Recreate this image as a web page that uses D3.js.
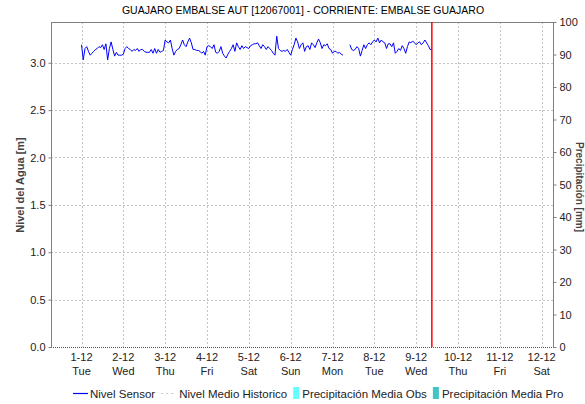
<!DOCTYPE html>
<html>
<head>
<meta charset="utf-8">
<script src="https://cdn.jsdelivr.net/npm/d3@7"></script>
<style>
  body { margin: 0; background: #fff; }
  svg { display: block; font-family: "Liberation Sans", Arial, sans-serif; }
</style>
</head>
<body>
<svg id="chart" width="585" height="404"></svg>
<script>
// Station title and axis labels
const title = "GUAJARO EMBALSE AUT [12067001] - CORRIENTE: EMBALSE GUAJARO";
const leftLabel = "Nivel del Agua [m]";
const rightLabel = "Precipitación [mm]";

// Hourly water level readings from 1-12 00:00 (null = missing reading)
const startHour = new Date(2020, 11, 1, 0, 0);
const levels = [
  // 1-12
  3.19, 3.03, 3.15, 3.17, 3.12, 3.08, 3.10, 3.12, 3.14, 3.15, 3.17, 3.16,
  3.19, 3.14, 3.20, 3.03, 3.15, 3.22, 3.14, 3.07, 3.11, 3.08, 3.08, 3.08,
  // 2-12
  3.09, 3.15, 3.17, 3.15, 3.14, 3.12, 3.14, 3.13, 3.15, 3.12, 3.14, 3.14,
  3.12, 3.11, 3.11, 3.11, 3.14, 3.10, 3.15, 3.10, 3.14, 3.11, 3.12, 3.13,
  // 3-12
  3.24, 3.22, 3.21, 3.24, 3.15, 3.08, 3.12, 3.14, 3.15, 3.19, 3.24, 3.19,
  3.17, 3.22, 3.26, 3.21, 3.14, 3.14, 3.13, 3.13, 3.12, 3.10, 3.12, 3.08,
  // 4-12
  3.17, 3.18, 3.17, 3.15, 3.19, 3.11, 3.10, 3.12, 3.17, 3.10, 3.07, 3.05,
  3.09, 3.12, 3.15, 3.19, 3.12, 3.21, 3.17, 3.14, 3.18, 3.15, 3.17, 3.16,
  // 5-12
  3.15, 3.18, 3.19, 3.20, 3.20, 3.21, 3.18, 3.15, 3.19, 3.17, 3.14, 3.17,
  3.15, 3.13, 3.10, 3.08, 3.28, 3.15, 3.13, 3.12, 3.13, 3.12, 3.14, 3.11,
  // 6-12
  3.08, 3.14, 3.19, 3.26, 3.22, 3.15, 3.19, 3.21, 3.12, 3.17, 3.18, 3.14,
  3.21, 3.19, 3.16, 3.21, 3.25, 3.21, 3.15, 3.19, 3.18, 3.20, 3.15, 3.14,
  // 7-12
  3.10, 3.12, 3.12, 3.10, 3.11, 3.09, 3.08, null, null, null, 3.19, 3.14,
  3.13, 3.14, 3.17, 3.15, 3.07, 3.13, 3.19, 3.15, 3.19, 3.21, 3.19, 3.22,
  // 8-12
  3.24, 3.22, 3.26, 3.21, 3.24, 3.22, 3.21, 3.15, 3.20, 3.20, 3.17, 3.21,
  3.10, 3.12, 3.15, 3.13, 3.18, 3.15, 3.10, 3.17, 3.22, 3.21, 3.23, 3.21,
  // 9-12
  3.19, 3.21, 3.22, 3.19, 3.21, 3.24, 3.21, 3.18, 3.14, 3.14
];

// Time of the latest reading (red marker)
const nowTime = new Date(2020, 11, 9, 9, 0);

// Axis ticks
const dayTicks = d3.range(1, 13).map(d => new Date(2020, 11, d));
const dayNames = ["Sun", "Mon", "Tue", "Wed", "Thu", "Fri", "Sat"];
const levelTicks = [0.0, 0.5, 1.0, 1.5, 2.0, 2.5, 3.0];
const rainTicks = [0, 10, 20, 30, 40, 50, 60, 70, 80, 90, 100];

// Legend entries
const legendItems = [
  { label: "Nivel Sensor", kind: "line", color: "#0000ff" },
  { label: "Nivel Medio Historico", kind: "dash", color: "#c8c8c8" },
  { label: "Precipitación Media Obs", kind: "box", color: "#66ffff" },
  { label: "Precipitación Media Pro", kind: "box", color: "#40c4c4" }
];

const svg = d3.select("#chart");
const m = { left: 51, right: 553, top: 22, bottom: 347 };

const x = d3.scaleTime()
  .domain([new Date(2020, 10, 30, 6, 30), new Date(2020, 11, 12, 6, 30)])
  .range([m.left, m.right]);
const y = d3.scaleLinear().domain([0, 3.43]).range([m.bottom, m.top]);
const y2 = d3.scaleLinear().domain([0, 100]).range([m.bottom, m.top]);

const axisColor = "#808080";
const gridColor = "#c4c4c4";

// Grid lines
const grid = svg.append("g");
grid.selectAll("line.v").data(dayTicks).join("line")
  .attr("x1", d => Math.round(x(d)) + 0.5).attr("x2", d => Math.round(x(d)) + 0.5)
  .attr("y1", m.top).attr("y2", m.bottom)
  .attr("stroke", gridColor).attr("stroke-dasharray", "2,2");
grid.selectAll("line.h").data(levelTicks.filter(d => d > 0)).join("line")
  .attr("x1", m.left).attr("x2", m.right)
  .attr("y1", d => Math.round(y(d)) + 0.5).attr("y2", d => Math.round(y(d)) + 0.5)
  .attr("stroke", gridColor).attr("stroke-dasharray", "2,2");

// Frame: top border, dotted baseline
svg.append("line").attr("x1", m.left).attr("x2", m.right)
  .attr("y1", m.top + 0.5).attr("y2", m.top + 0.5).attr("stroke", axisColor);
svg.append("line").attr("x1", m.left).attr("x2", m.right)
  .attr("y1", m.bottom + 0.5).attr("y2", m.bottom + 0.5)
  .attr("stroke", "#555").attr("stroke-dasharray", "1,1");

// Left and right axes
const gL = svg.append("g").attr("transform", `translate(${m.left + 0.5},0)`)
  .call(d3.axisLeft(y).tickValues(levelTicks).tickFormat(d3.format(".1f")).tickSize(3).tickPadding(3));
const gR = svg.append("g").attr("transform", `translate(${m.right + 0.5},0)`)
  .call(d3.axisRight(y2).tickValues(rainTicks).tickFormat(d3.format("d")).tickSize(3).tickPadding(3));
[gL, gR].forEach(g => {
  g.select(".domain").attr("stroke", axisColor).attr("d", `M0,${m.top}V${m.bottom + 1}`);
  g.selectAll(".tick line").attr("stroke", axisColor);
  g.selectAll(".tick text").attr("fill", "#222").style("font-size", "11px")
    .style("font-family", "Liberation Sans, Arial, sans-serif");
});

// Bottom day labels (date and weekday)
const xl = svg.append("g");
xl.selectAll("text.date").data(dayTicks).join("text")
  .attr("x", d => x(d)).attr("y", 361).attr("text-anchor", "middle")
  .style("font-size", "11px").attr("fill", "#222")
  .text(d => `${d.getDate()}-${d.getMonth() + 1}`);
xl.selectAll("text.day").data(dayTicks).join("text")
  .attr("x", d => x(d)).attr("y", 375).attr("text-anchor", "middle")
  .style("font-size", "11px").attr("fill", "#222")
  .text(d => dayNames[d.getDay()]);

// Water level line
const series = levels.map((v, i) => ({ t: d3.timeHour.offset(startHour, i), v }));
svg.append("path").datum(series)
  .attr("fill", "none").attr("stroke", "#0000ff").attr("stroke-width", 1)
  .attr("d", d3.line().defined(d => d.v !== null).x(d => x(d.t)).y(d => y(d.v)));

// Current time marker
svg.append("line").attr("x1", x(nowTime)).attr("x2", x(nowTime))
  .attr("y1", m.top).attr("y2", m.bottom)
  .attr("stroke", "#ff0000").attr("stroke-width", 1.5);

// Title
svg.append("text").attr("x", 303).attr("y", 14).attr("text-anchor", "middle")
  .style("font-size", "10.5px").attr("fill", "#000").text(title);

// Axis titles
svg.append("text").attr("transform", "translate(24,185) rotate(-90)")
  .attr("text-anchor", "middle").style("font-size", "11px").style("font-weight", "bold")
  .attr("fill", "#444").text(leftLabel);
svg.append("text").attr("transform", "translate(576,187) rotate(90)")
  .attr("text-anchor", "middle").style("font-size", "10px").style("font-weight", "bold")
  .attr("fill", "#444").text(rightLabel);

// Legend
const lg = svg.append("g").attr("transform", "translate(0,393)");
let lx = 73;
legendItems.forEach(item => {
  if (item.kind === "line") {
    lg.append("line").attr("x1", lx).attr("x2", lx + 15).attr("y1", 0.5).attr("y2", 0.5)
      .attr("stroke", item.color).attr("stroke-width", 1.2);
    lx += 17;
  } else if (item.kind === "dash") {
    lg.append("line").attr("x1", lx).attr("x2", lx + 15).attr("y1", 0.5).attr("y2", 0.5)
      .attr("stroke", item.color).attr("stroke-width", 1.2).attr("stroke-dasharray", "2,3");
    lx += 18;
  } else {
    lg.append("rect").attr("x", lx).attr("y", -6).attr("width", 6).attr("height", 12)
      .attr("fill", item.color);
    lx += 9;
  }
  const t = lg.append("text").attr("x", lx).attr("y", 4.5)
    .style("font-size", "11.5px").attr("fill", "#222").text(item.label);
  lx += t.node().getComputedTextLength() + 6;
});
</script>
</body>
</html>
